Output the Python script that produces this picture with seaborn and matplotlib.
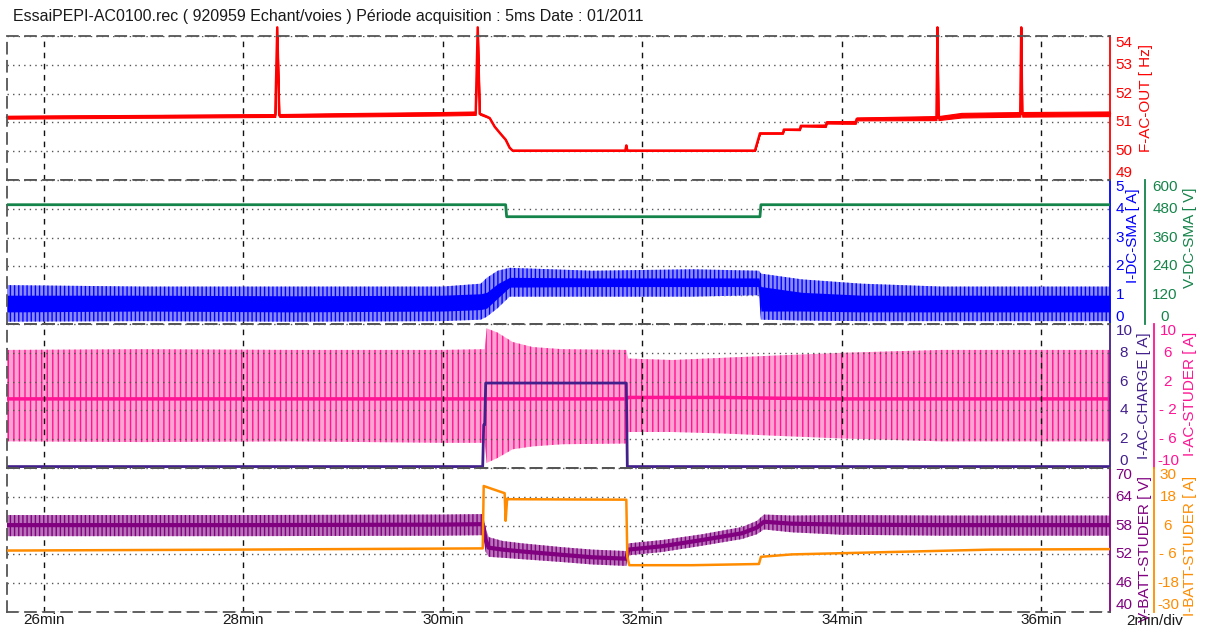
import matplotlib
matplotlib.use("Agg")
import matplotlib.pyplot as plt
import seaborn as sns

sns.set_theme(style="white")
plt.rcParams["font.family"] = ["Liberation Sans", "DejaVu Sans"]
plt.rcParams["hatch.linewidth"] = 1.0

# ---------------- text ----------------
TITLE = "EssaiPEPI-AC0100.rec ( 920959 Echant/voies ) Période acquisition : 5ms Date : 01/2011"
SCALE_TEXT = "2min/div"
x_range = [25.63, 36.69]
x_ticks = [26, 28, 30, 32, 34, 36]
x_tick_labels = ["26min", "28min", "30min", "32min", "34min", "36min"]

# ---------------- F-AC-OUT [Hz] ----------------
f_t = [25.63, 26.50, 27.50, 28.32, 28.34, 28.36, 29.20, 30.00, 30.33, 30.35, 30.37, 30.44, 30.47,
       30.52, 30.58, 30.63, 30.67, 30.70, 31.83, 31.84, 31.85, 33.13, 33.18, 33.41, 33.42, 33.58,
       33.59, 33.84, 33.85, 34.14, 34.15, 34.95, 34.96, 34.97, 35.20, 35.79, 35.80, 35.81, 36.69]
f_v = [51.18, 51.20, 51.22, 51.24, 54.30, 51.24, 51.27, 51.30, 51.32, 54.30, 51.30, 51.20, 51.15,
       50.85, 50.60, 50.40, 50.12, 50.02, 50.02, 50.20, 50.02, 50.02, 50.62, 50.62, 50.75, 50.75,
       50.88, 50.88, 51.00, 51.00, 51.12, 51.15, 54.30, 51.15, 51.25, 51.28, 54.30, 51.28, 51.30]
f_spread = [0.05, 0.05, 0.05, 0.05, 0.00, 0.05, 0.06, 0.06, 0.06, 0.00, 0.03, 0.02, 0.01,
            0.01, 0.01, 0.01, 0.01, 0.01, 0.01, 0.00, 0.01, 0.01, 0.01, 0.01, 0.01, 0.02,
            0.02, 0.04, 0.04, 0.05, 0.05, 0.07, 0.00, 0.07, 0.08, 0.08, 0.00, 0.08, 0.08]
f_ticks = [49, 50, 51, 52, 53, 54]

# ---------------- I-DC-SMA [A] ----------------
idc_t = [25.63, 27.0, 28.5, 30.0, 30.38, 30.44, 30.55, 30.67, 31.5, 32.5, 33.17, 33.19, 33.6, 34.2, 35.0, 36.0, 36.69]
idc_v = [0.68, 0.70, 0.66, 0.68, 0.70, 0.80, 1.15, 1.45, 1.45, 1.45, 1.45, 0.90, 0.80, 0.72, 0.68, 0.66, 0.66]
idc_lo = [0.08, 0.10, 0.08, 0.10, 0.15, 0.25, 0.55, 0.95, 0.95, 0.95, 1.00, 0.15, 0.12, 0.10, 0.10, 0.10, 0.10]
idc_hi = [1.35, 1.30, 1.30, 1.30, 1.40, 1.60, 1.85, 1.95, 1.85, 1.90, 1.85, 1.75, 1.55, 1.40, 1.30, 1.30, 1.30]
idc_in_lo = [0.42, 0.45, 0.42, 0.45, 0.50, 0.55, 0.90, 1.28, 1.30, 1.30, 1.30, 0.45, 0.45, 0.42, 0.42, 0.42, 0.42]
idc_in_hi = [1.00, 1.00, 0.98, 1.00, 1.05, 1.10, 1.40, 1.62, 1.60, 1.60, 1.60, 1.30, 1.10, 1.00, 1.00, 1.00, 1.00]
idc_ticks = [0, 1, 2, 3, 4, 5]

# ---------------- V-DC-SMA [V] ----------------
vdc_t = [25.63, 30.63, 30.64, 33.18, 33.19, 36.69]
vdc_v = [497, 497, 447, 447, 497, 497]
vdc_ticks = [0, 120, 240, 360, 480, 600]

# ---------------- I-AC-CHARGE [A] ----------------
iac_t = [25.63, 30.40, 30.41, 30.42, 30.43, 31.84, 31.85, 36.69]
iac_v = [0.10, 0.10, 3.00, 3.00, 5.90, 5.90, 0.10, 0.10]
iac_ticks = [0, 2, 4, 6, 8, 10]

# ---------------- I-AC-STUDER [A] ----------------
iacs_t = [25.63, 27.0, 28.5, 30.0, 30.42, 30.44, 30.55, 30.70, 30.90, 31.20, 31.84, 31.86,
          32.30, 32.80, 33.30, 34.00, 35.00, 36.69]
iacs_hi = [6.4, 6.5, 6.4, 6.4, 6.5, 9.4, 8.8, 7.5, 6.8, 6.5, 6.4, 5.2, 5.0, 5.3, 5.6, 6.0, 6.4, 6.4]
iacs_lo = [-6.3, -6.4, -6.3, -6.5, -6.5, -9.3, -8.6, -7.4, -7.0, -6.7, -6.6, -5.0, -5.0, -5.2,
           -5.5, -5.9, -6.3, -6.3]
iacs_v = [-0.4, -0.4, -0.4, -0.4, -0.4, -0.4, -0.4, -0.4, -0.4, -0.4, -0.4, -0.2, -0.2, -0.2,
          -0.3, -0.4, -0.4, -0.4]
iacs_ticks = [-10, -6, -2, 2, 6, 10]
iacs_tick_labels = ["-10", "- 6", "- 2", "2", "6", "10"]

# ---------------- V-BATT-STUDER [V] ----------------
vb_t = [25.63, 28.0, 30.0, 30.40, 30.43, 30.46, 30.60, 30.80, 31.20, 31.50, 31.84, 31.86, 32.20,
        32.60, 33.00, 33.15, 33.22, 33.50, 34.00, 35.00, 36.69]
vb_v = [58.1, 58.1, 58.2, 58.3, 55.0, 53.4, 53.0, 52.6, 51.9, 51.4, 51.1, 53.0, 53.7, 55.0, 56.4,
        57.6, 58.8, 58.4, 58.2, 58.1, 58.1]
vb_lo = [55.8, 55.8, 55.9, 56.0, 52.5, 51.5, 51.3, 51.0, 50.4, 49.9, 49.6, 51.8, 52.5, 53.8, 55.2,
         56.2, 57.2, 56.6, 56.1, 55.9, 55.9]
vb_hi = [60.2, 60.2, 60.3, 60.4, 57.5, 55.6, 54.8, 54.3, 53.5, 53.0, 52.7, 54.3, 55.0, 56.2, 57.7,
         59.0, 60.3, 60.1, 60.2, 60.1, 60.1]
vb_ticks = [40, 46, 52, 58, 64, 70]

# ---------------- I-BATT-STUDER [A] ----------------
ib_t = [25.63, 28.00, 30.38, 30.40, 30.41, 30.50, 30.62, 30.63, 30.645, 30.66, 31.84, 31.85, 31.87,
        32.50, 33.17, 33.19, 33.50, 34.50, 35.50, 36.69]
ib_v = [-4.4, -4.0, -3.5, -3.5, 22.5, 21.2, 19.5, 8.0, 17.2, 17.0, 16.8, -7.0, -10.5, -10.5, -10.0,
        -7.0, -6.0, -5.0, -4.0, -3.8]
ib_ticks = [-30, -18, -6, 6, 18, 30]
ib_tick_labels = ["-30", "-18", "- 6", "6", "18", "30"]

# ---------------- colours ----------------
C_RED = "#FF0000"
C_BLUE = "#0000FF"
C_BLUE_L = "#8A8AFF"
C_GREEN = "#15844A"
C_INDIGO = "#42208C"
C_PINK = "#FF1493"
C_PINK_L = "#FFA3D2"
C_PURPLE = "#800080"
C_PURPLE_L = "#B874B8"
C_ORANGE = "#FF8C00"

W, H = 1205, 631
fig = plt.figure(figsize=(W / 100, H / 100), dpi=100)
fig.patch.set_facecolor("white")
L, R = 7, 1110
PH = 144
TOPS = [36, 180, 324, 468]
FS = 11
FS_TITLE = 11.5


def fx(px):
    return (px - L) / (R - L)


def make_panel(top, color):
    ax = fig.add_axes([L / W, (H - top - PH) / H, (R - L) / W, PH / H])
    ax.set_facecolor("white")
    for s in ("left", "top", "bottom"):
        ax.spines[s].set_visible(True)
        ax.spines[s].set_color("#555555")
        ax.spines[s].set_linestyle((0, (6, 4)))
        ax.spines[s].set_linewidth(1.3)
    ax.spines["right"].set_visible(True)
    ax.spines["right"].set_color(color)
    ax.spines["right"].set_linewidth(1.3)
    ax.set_xlim(x_range)
    ax.set_xticks(x_ticks)
    ax.tick_params(axis="x", length=0, labelbottom=False)
    ax.grid(True, axis="x", color="#111111", linestyle=(0, (4, 4)), linewidth=1.0)
    ax.grid(True, axis="y", color="#555555", linestyle=(0, (1, 3)), linewidth=1.0)
    ax.set_axisbelow(True)
    return ax


def make_twin(ax, color, outward_px):
    tw = ax.twinx()
    for s in ("left", "top", "bottom"):
        tw.spines[s].set_visible(False)
    tw.spines["right"].set_visible(True)
    tw.spines["right"].set_color(color)
    tw.spines["right"].set_linewidth(1.3)
    tw.spines["right"].set_position(("outward", outward_px * 0.72))
    tw.grid(False)
    return tw


def right_axis(ax, lim, ticks, labels, color, pad_px, label, label_px):
    ax.set_ylim(lim)
    ax.set_yticks(ticks, labels=labels)
    ax.yaxis.tick_right()
    ax.tick_params(axis="y", length=0, pad=pad_px * 0.72, labelsize=FS, labelcolor=color,
                   left=False, labelleft=False, right=True, labelright=True)
    labs = ax.get_yticklabels()
    for i, lab in enumerate(labs):
        lab.set_ha("center")
        if i == 0:
            lab.set_va("bottom")
        elif i == len(labs) - 1:
            lab.set_va("top")
        else:
            lab.set_va("center")
    ax.set_ylabel(label, color=color, fontsize=FS)
    ax.yaxis.set_label_position("right")
    yl = ax.yaxis.label
    yl.set_rotation(90)
    yl.set_rotation_mode("anchor")
    yl.set_ha("right")
    yl.set_va("center")
    ax.yaxis.set_label_coords(fx(label_px), 1 - 8 / PH)


# create all axes first (twinx moves the host ticks, so style afterwards)
ax1 = make_panel(TOPS[0], C_RED)
ax2 = make_panel(TOPS[1], C_BLUE)
tw2 = make_twin(ax2, C_GREEN, 35)
ax3 = make_panel(TOPS[2], C_INDIGO)
tw3 = make_twin(ax3, C_PINK, 44)
ax4 = make_panel(TOPS[3], C_PURPLE)
tw4 = make_twin(ax4, C_ORANGE, 44)

# ---------- panel 1 : F-AC-OUT ----------
f_lo = [v - s for v, s in zip(f_v, f_spread)]
f_hi = [v + s for v, s in zip(f_v, f_spread)]
ax1.fill_between(f_t, f_lo, f_hi, color=C_RED, linewidth=0.8)
sns.lineplot(x=f_t, y=f_v, ax=ax1, color=C_RED, linewidth=1.8, estimator=None, sort=False,
             clip_on=False)

# ---------- panel 2 : I-DC-SMA / V-DC-SMA ----------
ax2.fill_between(idc_t, idc_lo, idc_hi, facecolor=C_BLUE_L, edgecolor=C_BLUE, hatch="||||",
                 linewidth=0)
ax2.fill_between(idc_t, idc_in_lo, idc_in_hi, color=C_BLUE, linewidth=0)
sns.lineplot(x=idc_t, y=idc_v, ax=ax2, color=C_BLUE, linewidth=1.5, estimator=None, sort=False)
sns.lineplot(x=vdc_t, y=vdc_v, ax=tw2, color=C_GREEN, linewidth=2.0, estimator=None, sort=False)

# ---------- panel 3 : I-AC-CHARGE / I-AC-STUDER ----------
tw3.fill_between(iacs_t, iacs_lo, iacs_hi, facecolor=C_PINK_L, edgecolor=C_PINK, hatch="|||",
                 linewidth=0)
sns.lineplot(x=iacs_t, y=iacs_v, ax=tw3, color=C_PINK, linewidth=2.5, estimator=None, sort=False)
sns.lineplot(x=iac_t, y=iac_v, ax=ax3, color=C_INDIGO, linewidth=2.0, estimator=None, sort=False)
ax3.set_zorder(tw3.get_zorder() + 1)
ax3.patch.set_visible(False)

# ---------- panel 4 : V-BATT-STUDER / I-BATT-STUDER ----------
ax4.fill_between(vb_t, vb_lo, vb_hi, facecolor=C_PURPLE_L, edgecolor=C_PURPLE, hatch="||||",
                 linewidth=0)
sns.lineplot(x=vb_t, y=vb_v, ax=ax4, color=C_PURPLE, linewidth=3.0, estimator=None, sort=False)
sns.lineplot(x=ib_t, y=ib_v, ax=tw4, color=C_ORANGE, linewidth=1.8, estimator=None, sort=False)

# ---------- right axes ----------
right_axis(ax1, (49, 54), f_ticks, [str(v) for v in f_ticks], C_RED, 14, "F-AC-OUT [ Hz]", 1146)
right_axis(ax2, (0, 5), idc_ticks, [str(v) for v in idc_ticks], C_BLUE, 10, "I-DC-SMA [ A]", 1133)
right_axis(tw2, (0, 600), vdc_ticks, [str(v) for v in vdc_ticks], C_GREEN, 20, "V-DC-SMA [ V]", 1190)
right_axis(ax3, (0, 10), iac_ticks, [str(v) for v in iac_ticks], C_INDIGO, 14, "I-AC-CHARGE [ A]", 1144)
right_axis(tw3, (-10, 10), iacs_ticks, iacs_tick_labels, C_PINK, 14, "I-AC-STUDER [ A]", 1190)
right_axis(ax4, (40, 70), vb_ticks, [str(v) for v in vb_ticks], C_PURPLE, 14, "V-BATT-STUDER [ V]", 1145)
right_axis(tw4, (-30, 30), ib_ticks, ib_tick_labels, C_ORANGE, 14, "I-BATT-STUDER [ A]", 1190)

for a in (ax1, ax2, tw2, ax3, tw3, ax4, tw4):
    a.set_xlim(x_range)
    a.set_xlabel("")

ax4.set_xticks(x_ticks, labels=x_tick_labels)
ax4.tick_params(axis="x", length=0, labelbottom=True, pad=1, labelsize=FS, labelcolor="#1a1a1a")

fig.text(13 / W, 1 - 17 / H, TITLE, ha="left", va="center", fontsize=FS_TITLE, color="#1a1a1a")
fig.text(1155 / W, 1 - 621 / H, SCALE_TEXT, ha="center", va="center", fontsize=FS, color="#1a1a1a")

fig.savefig("out.png", dpi=100, facecolor="white")
